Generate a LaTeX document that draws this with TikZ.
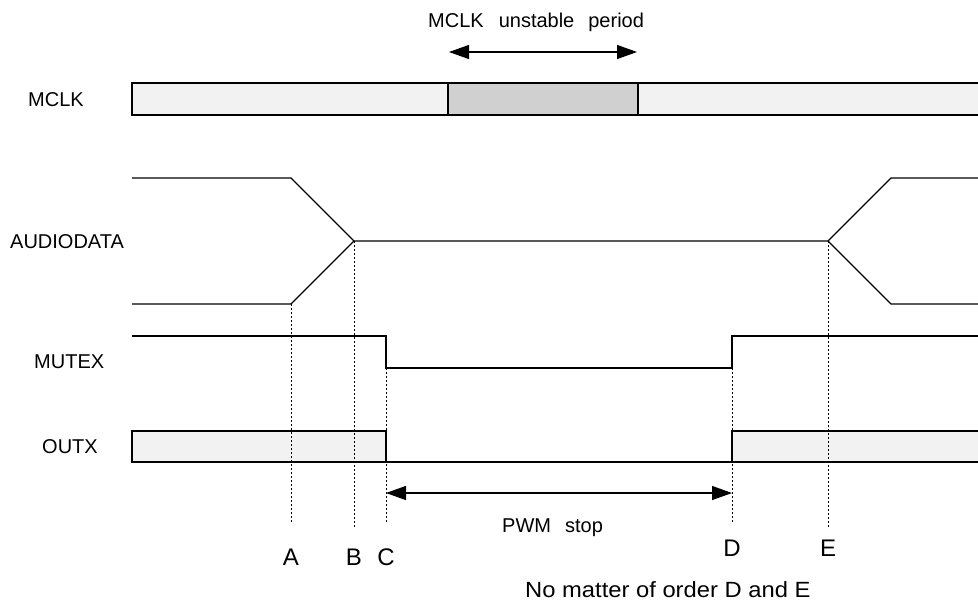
\documentclass[tikz,border=0pt]{standalone}
\usepackage{fontspec}
\setmainfont{Liberation Sans}
\usetikzlibrary{arrows.meta}
\definecolor{barlight}{HTML}{F2F2F2}
\definecolor{barmid}{HTML}{D0D0D0}
\begin{document}
\begin{tikzpicture}[x=1pt,y=-1pt,
  sig/.style={line width=1.3pt, draw=black},
  guide/.style={line width=0.9pt, dash pattern=on 2pt off 2pt},
  lbl/.style={font=\fontsize{20}{24}\selectfont, inner sep=0pt, anchor=base west},
  ltr/.style={font=\fontsize{24}{28}\selectfont, inner sep=0pt, anchor=base},
  dimarrow/.style={line width=1.3pt, {Triangle[length=20pt,width=14pt]}-{Triangle[length=20pt,width=14pt]}}]
\useasboundingbox (0,0) rectangle (978,600);

% event coordinates
\coordinate (Atop) at (291,304);  \coordinate (Abot) at (291,523);
\coordinate (Btop) at (354,241);  \coordinate (Bbot) at (354,527);
\coordinate (Ctop) at (386,368);  \coordinate (Cbot) at (386,523);
\coordinate (Dtop) at (732,368);  \coordinate (Dbot) at (732,523);
\coordinate (Etop) at (828,241);  \coordinate (Ebot) at (828,527);

% fills
\fill[barlight] (132,83) rectangle (448,115);
\fill[barmid] (448,83) rectangle (638,115);
\fill[barlight] (638,83) rectangle (978,115);
\fill[barlight] (132,431) rectangle (386,462);
\fill[barlight] (732,431) rectangle (978,462);

% guide lines
\draw[guide] (Atop) -- (Abot);
\draw[guide] (Btop) -- (Bbot);
\draw[guide] (Ctop) -- (Cbot);
\draw[guide] (Dtop) -- (Dbot);
\draw[guide] (Etop) -- (Ebot);

% MCLK
\draw[sig] (978,83) -- (132,83) -- (132,115) -- (978,115);
\draw[sig] (448,83) -- (448,115);
\draw[sig] (638,83) -- (638,115);

% AUDIODATA
\draw[sig] (132,178) -- (291,178) -- (Btop) -- (Etop) -- (891,178) -- (978,178);
\draw[sig] (132,304) -- (Atop) -- (Btop);
\draw[sig] (Etop) -- (891,304) -- (978,304);

% MUTEX
\draw[sig] (132,336) -- (386,336) -- (Ctop) -- (Dtop) -- (732,336) -- (978,336);

% OUTX
\draw[sig] (132,431) -- (386,431) -- (386,462) -- (132,462) -- cycle;
\draw[sig] (386,462) -- (732,462);
\draw[sig] (978,431) -- (732,431) -- (732,462) -- (978,462);

% arrows
\coordinate (U1) at (449,52); \coordinate (U2) at (637,52);
\draw[dimarrow] (U1) -- (U2);
\coordinate (P1) at (386,493); \coordinate (P2) at (732,493);
\draw[dimarrow] (P1) -- (P2);

% labels
\node[lbl] (lmclk) at (28,106) {MCLK};
\node[lbl] (laud) at (10,248) {AUDIODATA};
\node[lbl] (lmut) at (34,368) {MUTEX};
\node[lbl] (lout) at (42,453) {OUTX};
\node[lbl] (lunst) at (428,27) {MCLK\hspace{15pt}unstable\hspace{14pt}period};
\node[lbl] (lpwm) at (502,532) {PWM\hspace{14pt}stop};

\node[ltr] (tA) at (291,565) {A};
\node[ltr] (tB) at (354,565) {B};
\node[ltr] (tC) at (386,565) {C};
\node[ltr] (tD) at (732,556) {D};
\node[ltr] (tE) at (828,556) {E};

\node[inner sep=0pt, anchor=base west, font=\fontsize{22}{26}\selectfont, xscale=1.08] (note) at (525,597) {No matter of order D and E};
\end{tikzpicture}
\end{document}
